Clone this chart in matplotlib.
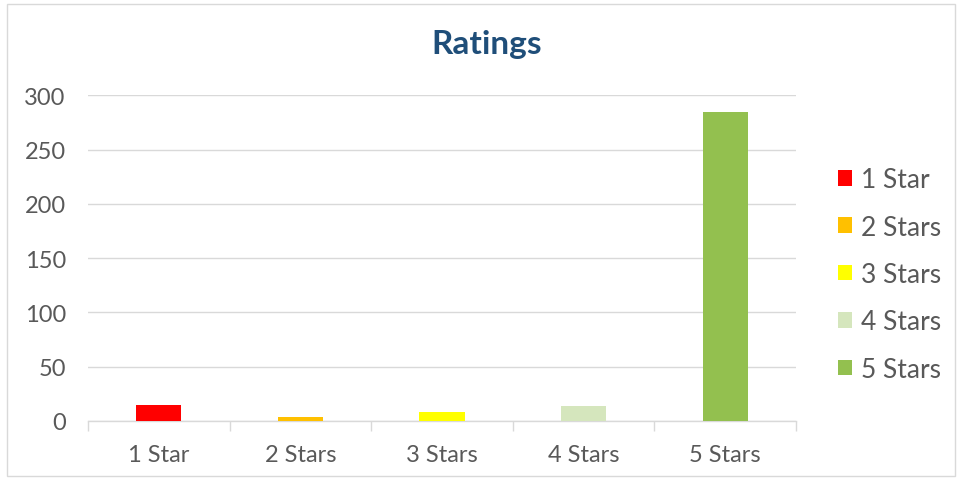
import matplotlib
matplotlib.use("Agg")
import matplotlib.pyplot as plt
from matplotlib.patches import Rectangle
import numpy as np

categories = ["1 Star", "2 Stars", "3 Stars", "4 Stars", "5 Stars"]
legend_labels = ["1 Star", "2 Stars", "3 Stars", "4 Stars", "5 Stars"]
values = [15, 4, 8, 14, 285]
colors = ["#FF0000", "#FFC000", "#FFFF00", "#D5E6BD", "#93C04F"]
yticks = [0, 50, 100, 150, 200, 250, 300]

plt.rcParams['font.family'] = ['Lato', 'DejaVu Sans']

fig = plt.figure(figsize=(9.59, 4.81), dpi=100)
fig.patch.set_facecolor("white")
fig.patches.append(Rectangle((7/959, 4/481), 948/959, 472/481, transform=fig.transFigure,
                             fill=False, edgecolor="#D9D9D9", linewidth=1.0))

ax = fig.add_axes([88/959, 1 - 422/481, (796 - 88)/959, (422 - 96.3)/481])
x = np.arange(len(categories))
for i in range(len(categories)):
    ax.bar(x[i], values[i], width=0.32, color=colors[i], label=legend_labels[i], zorder=3)

ax.set_xlim(-0.5, len(categories) - 0.5)
ax.set_ylim(0, 300)
ax.set_yticks(yticks)
ax.set_yticklabels([str(v) for v in yticks])
ax.set_xticks(x)
ax.set_xticklabels(categories)
ax.set_xticks(np.arange(-0.5, len(categories), 1.0), minor=True)

ax.grid(axis="y", color="#D9D9D9", linewidth=1.0, zorder=0)
for s in ["left", "right", "top"]:
    ax.spines[s].set_visible(False)
ax.spines["bottom"].set_color("#D9D9D9")
ax.spines["bottom"].set_linewidth(1.0)

ax.tick_params(axis="y", length=0, pad=16, labelsize=17, labelcolor="#595959")
ax.tick_params(axis="x", which="major", length=0, pad=16.5, labelsize=17, labelcolor="#595959")
ax.tick_params(axis="x", which="minor", length=7, width=1.0, color="#D9D9D9")

fig.text(487/959, 1 - 45/481, "Ratings", ha="center", va="center", fontsize=24,
         fontweight="bold", color="#1F4E79")

leg = ax.legend(loc="center left", bbox_to_anchor=(838/959, 1 - 275.5/481),
                bbox_transform=fig.transFigure, frameon=False, fontsize=19,
                borderpad=0, borderaxespad=0,
                handlelength=0.53, handleheight=0.53, handletextpad=0.33, labelspacing=0.85)
for t in leg.get_texts():
    t.set_color("#595959")

fig.savefig("out.png", dpi=100, facecolor="white")
